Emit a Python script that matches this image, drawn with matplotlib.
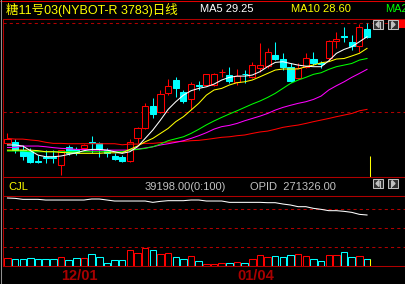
import numpy as np
import matplotlib.pyplot as plt
from matplotlib.patches import Rectangle, Polygon
from matplotlib.lines import Line2D

plt.rcParams['font.family'] = ['Liberation Sans', 'Noto Sans CJK SC', 'DejaVu Sans']

# daily bars of sugar #11 (NYBOT), prices in cents
opens = [23.26, 23.35, 22.88, 22.85, 22.25, 22.49, 22.51, 22.04, 23.07, 22.92,
         22.98, 23.33, 23.26, 22.88, 22.55, 22.51, 22.29, 23.54, 24.14, 25.36,
         25.04, 26.07, 26.82, 26.16, 25.73, 26.54, 26.54, 26.54, 27.25, 27.10,
         26.72, 27.17, 27.00, 27.47, 27.62, 28.22, 28.00, 27.57, 26.95, 27.57,
         28.00, 27.77, 28.03, 29.01, 29.29, 28.93, 28.75, 29.68]
highs = [23.82, 23.48, 23.17, 22.98, 22.60, 22.88, 22.88, 22.88, 23.17, 23.07,
         23.22, 23.67, 23.35, 22.98, 22.70, 22.60, 23.48, 24.20, 25.51, 25.79,
         26.26, 26.85, 26.97, 26.26, 26.69, 26.76, 27.16, 27.19, 27.42, 27.53,
         27.42, 27.38, 27.85, 28.91, 28.60, 28.97, 28.32, 27.75, 27.75, 28.32,
         28.41, 27.89, 29.07, 29.50, 29.81, 29.35, 29.96, 30.00]
lows = [23.22, 22.70, 22.32, 22.17, 22.14, 22.14, 22.14, 21.48, 22.60, 22.60,
        22.92, 22.70, 22.51, 22.51, 22.32, 22.23, 22.23, 23.26, 24.05, 24.66,
        24.94, 25.97, 25.84, 25.51, 25.17, 26.26, 26.52, 26.50, 26.97, 26.63,
        26.54, 26.63, 26.91, 27.29, 27.47, 27.94, 27.38, 26.72, 26.85, 27.47,
        27.66, 27.47, 27.90, 28.60, 28.97, 28.50, 28.41, 29.16]
closes = [23.48, 22.88, 22.55, 22.23, 22.21, 22.45, 22.42, 22.88, 22.70, 22.74,
          23.17, 23.30, 22.92, 22.70, 22.36, 22.29, 23.35, 24.10, 25.36, 24.89,
          26.03, 26.48, 26.39, 25.66, 26.57, 26.50, 27.14, 27.14, 27.29, 26.78,
          27.06, 27.14, 27.66, 27.66, 28.37, 28.00, 27.57, 26.76, 27.47, 28.03,
          27.79, 27.74, 29.01, 29.12, 29.25, 28.75, 29.78, 29.25]
volume = [45000, 39200, 39200, 45000, 39200, 39200, 39200, 50900, 33300, 45000,
          45000, 68400, 50900, 15800, 33300, 33300, 91800, 76000, 103500, 91800,
          68400, 74300, 50900, 39200, 56700, 27500, 9900, 9900, 15800, 15800,
          21600, 15800, 39200, 62600, 50900, 56700, 50900, 62600, 68400, 56700,
          39200, 27500, 62600, 62600, 80100, 50900, 56700, 39198]
opid = [296800, 296300, 294800, 294800, 294800, 293800, 293800, 293800, 293800, 293800,
        293800, 295300, 295300, 293800, 292300, 292300, 292300, 292300, 292300, 290300,
        291800, 292800, 292800, 292800, 293800, 293800, 292300, 292300, 292300, 290300,
        290300, 290300, 290300, 290300, 289800, 289800, 287800, 286300, 283800, 283800,
        281300, 279800, 277800, 277800, 276800, 275300, 272300, 271326]

ma5 = [23.17, 23.17, 23.11, 22.85, 22.60, 22.51, 22.51, 22.55, 22.64, 22.73,
       22.85, 22.92, 22.92, 22.88, 22.79, 22.70, 22.79, 23.07, 23.54, 24.01,
       24.57, 25.17, 25.60, 25.97, 26.22, 26.35, 26.44, 26.59, 26.82, 26.97,
       27.04, 27.04, 27.10, 27.29, 27.57, 27.81, 27.85, 27.75, 27.66, 27.60,
       27.57, 27.57, 27.90, 28.32, 28.54, 28.69, 28.97, 29.25]
ma10 = [22.88, 22.88, 22.88, 22.88, 22.85, 22.79, 22.79, 22.75, 22.73, 22.70,
        22.70, 22.70, 22.70, 22.73, 22.73, 22.73, 22.92, 23.11, 23.35, 23.54,
        23.82, 24.10, 24.48, 24.76, 25.13, 25.51, 25.97, 26.26, 26.35, 26.54,
        26.67, 26.72, 26.82, 27.00, 27.19, 27.38, 27.44, 27.44, 27.44, 27.57,
        27.66, 27.79, 27.85, 28.00, 28.03, 28.17, 28.32, 28.60]
ma20 = [22.83, 22.83, 22.83, 22.79, 22.79, 22.79, 22.79, 22.79, 22.79, 22.79,
        22.79, 22.79, 22.79, 22.79, 22.79, 22.79, 22.88, 22.92, 22.98, 23.07,
        23.22, 23.41, 23.52, 23.63, 23.82, 24.05, 24.30, 24.52, 24.72, 24.91,
        25.09, 25.28, 25.47, 25.64, 25.84, 26.07, 26.35, 26.63, 26.82, 26.97,
        27.14, 27.23, 27.42, 27.57, 27.66, 27.75, 27.94, 28.03]
ma40 = [23.03, 23.03, 23.11, 23.11, 23.11, 23.07, 23.02, 22.98, 22.96, 22.92,
        22.92, 22.88, 22.88, 22.88, 22.88, 22.88, 22.88, 22.94, 23.00, 23.07,
        23.17, 23.24, 23.32, 23.41, 23.54, 23.69, 23.86, 24.06, 24.20, 24.27,
        24.38, 24.53, 24.66, 24.79, 24.94, 25.13, 25.28, 25.40, 25.51, 25.60,
        25.73, 25.92, 26.26, 26.50, 26.72, 26.97, 27.19, 27.42]
ma60 = [23.54, 23.50, 23.50, 23.45, 23.41, 23.32, 23.26, 23.26, 23.24, 23.24,
        23.24, 23.24, 23.24, 23.24, 23.24, 23.18, 23.22, 23.22, 23.26, 23.26,
        23.30, 23.33, 23.35, 23.37, 23.41, 23.43, 23.48, 23.54, 23.60, 23.63,
        23.69, 23.73, 23.82, 23.90, 23.95, 24.05, 24.16, 24.23, 24.29, 24.38,
        24.48, 24.57, 24.66, 24.76, 24.85, 24.94, 25.09, 25.17]

date_idx = [7, 30]
date_lbl = ['12/01', '01/04']
cursor_top = 22.55

title = '糖11号03(NYBOT-R 3783)日线'

RED = '#ff0000'
CYAN = '#00ffff'
FRAME = '#b00000'
GREY = '#c0c0c0'
lw = 0.75

W, H = 406, 284
fig = plt.figure(figsize=(W / 100, H / 100), dpi=100, facecolor='black')


def box(x0, y0, x1, y1):
    a = fig.add_axes([x0 / W, 1 - y1 / H, (x1 - x0) / W, (y1 - y0) / H])
    a.set_facecolor('black')
    for s in a.spines.values():
        s.set_color(FRAME)
        s.set_linewidth(lw)
    a.tick_params(length=0, labelleft=False, labelbottom=False)
    return a


def label(x, y, s, size=8, **kw):
    fig.text(x / W, 1 - y / H, s, va='center', ha='left', fontsize=size, **kw)


def rect_px(x0, y0, x1, y1, **kw):
    fig.add_artist(Rectangle((x0 / W, 1 - y1 / H), (x1 - x0) / W, (y1 - y0) / H,
                             transform=fig.transFigure, **kw))


def button(x0, y0, left):
    rect_px(x0, y0, x0 + 10, y0 + 9, facecolor='#303030', edgecolor=GREY, lw=lw)
    cy = 1 - (y0 + 4.5) / H
    if left:
        pts = [((x0 + 3) / W, cy), ((x0 + 6) / W, cy + 3 / H), ((x0 + 6) / W, cy - 3 / H)]
        bar = (x0 + 7) / W
    else:
        pts = [((x0 + 7) / W, cy), ((x0 + 4) / W, cy + 3 / H), ((x0 + 4) / W, cy - 3 / H)]
        bar = (x0 + 3) / W
    fig.add_artist(Polygon(pts, closed=True, transform=fig.transFigure, color=GREY))
    fig.add_artist(Line2D([bar, bar], [cy - 3 / H, cy + 3 / H], color=GREY, lw=lw))


n = len(closes)
x = np.arange(n)
xlim = (-0.52, 52.03)

# price panel
ax = box(3.5, 19, 405.5, 177)
ax.set_xlim(*xlim)
ax.set_ylim(21.37, 30.25)
ax.set_xticks([])
ax.set_yticks([25, 30])
ax.grid(axis='y', color=FRAME, linestyle=(0, (3, 3)), linewidth=lw)

for i in range(n):
    o, h, l, c = opens[i], highs[i], lows[i], closes[i]
    up = c >= o
    col = RED if up else CYAN
    ax.vlines(i, l, h, color=col, lw=lw, zorder=3)
    lo, hi = min(o, c), max(o, c)
    ax.add_patch(Rectangle((i - 0.4, lo), 0.8, max(hi - lo, 0.02),
                           facecolor='black' if up else CYAN,
                           edgecolor=col, lw=lw, zorder=4))

ax.plot(x, ma60, color=RED, lw=lw, zorder=5)
ax.plot(x, ma40, color='#ff00ff', lw=lw, zorder=5)
ax.plot(x, ma20, color='#00ff00', lw=lw, zorder=5)
ax.plot(x, ma10, color='#ffff00', lw=lw, zorder=5)
ax.plot(x, ma5, color='white', lw=lw, zorder=5)
ax.vlines(n - 1 + 0.42, 21.37, cursor_top, color='#ffff00', lw=lw)

# info strip
info = box(3.5, 177, 405.5, 196)
info.set_xticks([])
info.set_yticks([])

# volume / open interest panel
av = box(3.5, 196, 405.5, 266)
av.set_xlim(*xlim)
av.set_ylim(0, 409500)
av.set_yticks([111150, 222300, 333450])
av.grid(axis='y', color=FRAME, linestyle=(0, (3, 3)), linewidth=lw)
vcol = [RED if closes[i] >= opens[i] else CYAN for i in range(n)]
av.bar(x, volume, width=0.85, facecolor='black', edgecolor=vcol, linewidth=lw, zorder=3)
av.vlines(n - 1 + 0.425, 0, volume[-1], color='#ffff00', lw=lw, zorder=4)
av.set_xticks(date_idx)
av.set_xticklabels(date_lbl, color='#a80000', fontsize=10.5, fontweight='bold')
av.tick_params(axis='x', labelbottom=True, pad=2)
for t in av.get_xticklabels():
    t.set_ha('left')

ao = av.twinx()
ao.set_ylim(194826, 299826)
ao.plot(x, opid, color='white', lw=lw, zorder=5)
ao.set_yticks([])
for s in ao.spines.values():
    s.set_visible(False)

# title bar
fig.add_artist(Line2D([0, 1], [1 - 0.5 / H] * 2, color='#e00000', lw=lw))
fig.add_artist(Line2D([0.5 / W] * 2, [0, 1], color='#909090', lw=lw))
label(6, 9.5, title, size=9, color='#ffff00')
label(200, 9.5, 'MA5 29.25', color='white')
label(291, 9.5, 'MA10 28.60', color='#ffff00')
label(385, 9.5, 'MA20', color='#00ff00')

label(8, 186.5, 'CJL', color='#ffff00')
label(145, 186.5, '39198.00(0:100)', color=GREY)
label(250, 186.5, 'OPID  271326.00', color=GREY)

button(373, 20, True)
button(388, 20, False)
rect_px(399, 20, 405, 28, facecolor=RED, edgecolor='none')
button(373, 179, True)
button(388, 179, False)

fig.savefig('out.png', dpi=100, facecolor='black')
